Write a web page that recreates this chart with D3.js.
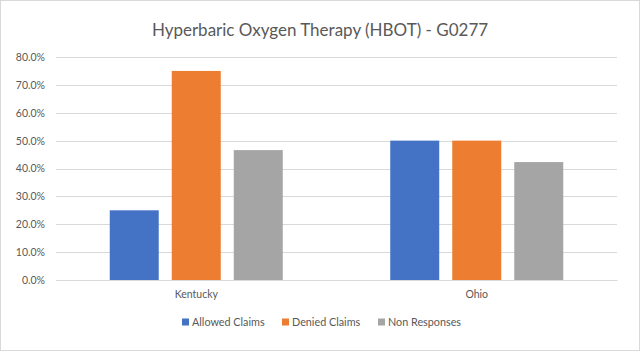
<!DOCTYPE html>
<html>
<head>
<meta charset="utf-8">
<script src="https://cdn.jsdelivr.net/npm/d3@7"></script>
<style>
  html, body { margin: 0; padding: 0; background: #fff; }
  text { font-family: Lato, "Open Sans", sans-serif; }
</style>
</head>
<body>
<svg id="chart" width="640" height="351"></svg>
<script>
const title = "Hyperbaric Oxygen Therapy (HBOT) - G0277";
const categories = ["Kentucky", "Ohio"];
const seriesNames = ["Allowed Claims", "Denied Claims", "Non Responses"];
const allowedClaims = [0.25, 0.50];
const deniedClaims = [0.75, 0.50];
const nonResponses = [0.466, 0.423];
const yTicks = [0, 0.1, 0.2, 0.3, 0.4, 0.5, 0.6, 0.7, 0.8];
const colors = ["#4472C4", "#ED7D31", "#A5A5A5"];

const seriesValues = [allowedClaims, deniedClaims, nonResponses];
const svg = d3.select("#chart");
const W = 640, H = 351;
const margin = { left: 56, right: 23, top: 57, bottom: 71 };

svg.append("rect").attr("x", 0.5).attr("y", 0.5).attr("width", W - 1).attr("height", H - 1)
  .attr("fill", "#fff").attr("stroke", "#D9D9D9");

const x0 = d3.scaleBand().domain(categories).range([margin.left, W - margin.right]).padding(0);
const groupW = 173;
const x1 = d3.scaleBand().domain(seriesNames).range([-groupW / 2, groupW / 2]).paddingInner(0.21).paddingOuter(0);
const y = d3.scaleLinear().domain([0, 0.8]).range([H - margin.bottom, margin.top]);

// gridlines
svg.append("g").selectAll("line").data(yTicks).join("line")
  .attr("x1", margin.left).attr("x2", W - margin.right)
  .attr("y1", d => Math.round(y(d)) + 0.5).attr("y2", d => Math.round(y(d)) + 0.5)
  .attr("stroke", "#D9D9D9").attr("stroke-width", 1);

// y axis labels
const yAxis = d3.axisLeft(y).tickValues(yTicks).tickFormat(d3.format(".1%")).tickSize(0).tickPadding(11);
const gy = svg.append("g").attr("transform", `translate(${margin.left},0)`).call(yAxis);
gy.select(".domain").remove();
gy.selectAll("text").attr("fill", "#595959").style("font-size", "10.5px").style("font-family", "Lato, sans-serif");

// bars
const groups = svg.append("g").selectAll("g").data(categories).join("g")
  .attr("transform", d => `translate(${x0(d) + x0.bandwidth() / 2},0)`);
groups.selectAll("rect").data((c, i) => seriesNames.map((s, j) => ({ s, j, v: seriesValues[j][i] })))
  .join("rect")
  .attr("x", d => x1(d.s)).attr("width", x1.bandwidth())
  .attr("y", d => y(d.v)).attr("height", d => y(0) - y(d.v))
  .attr("fill", d => colors[d.j]);

// x axis
const xAxis = d3.axisBottom(x0).tickSize(0).tickPadding(11);
const gx = svg.append("g").attr("transform", `translate(0,${y(0)})`).call(xAxis);
gx.select(".domain").attr("stroke", "#D9D9D9");
gx.selectAll("text").attr("fill", "#595959").style("font-size", "10.5px").style("font-family", "Lato, sans-serif");

// title
svg.append("text").attr("x", 320).attr("y", 36).attr("text-anchor", "middle")
  .attr("fill", "#595959").style("font-size", "17px").text(title);

// legend
const legendX = [182, 282, 378];
const lg = svg.append("g").selectAll("g").data(seriesNames).join("g")
  .attr("transform", (d, i) => `translate(${legendX[i]},322)`);
lg.append("rect").attr("x", 0).attr("y", -3.5).attr("width", 7).attr("height", 7).attr("fill", (d, i) => colors[i]);
lg.append("text").attr("x", 10).attr("y", 0).attr("dy", "0.35em").attr("fill", "#595959")
  .style("font-size", "10.8px").text(d => d);
</script>
</body>
</html>
